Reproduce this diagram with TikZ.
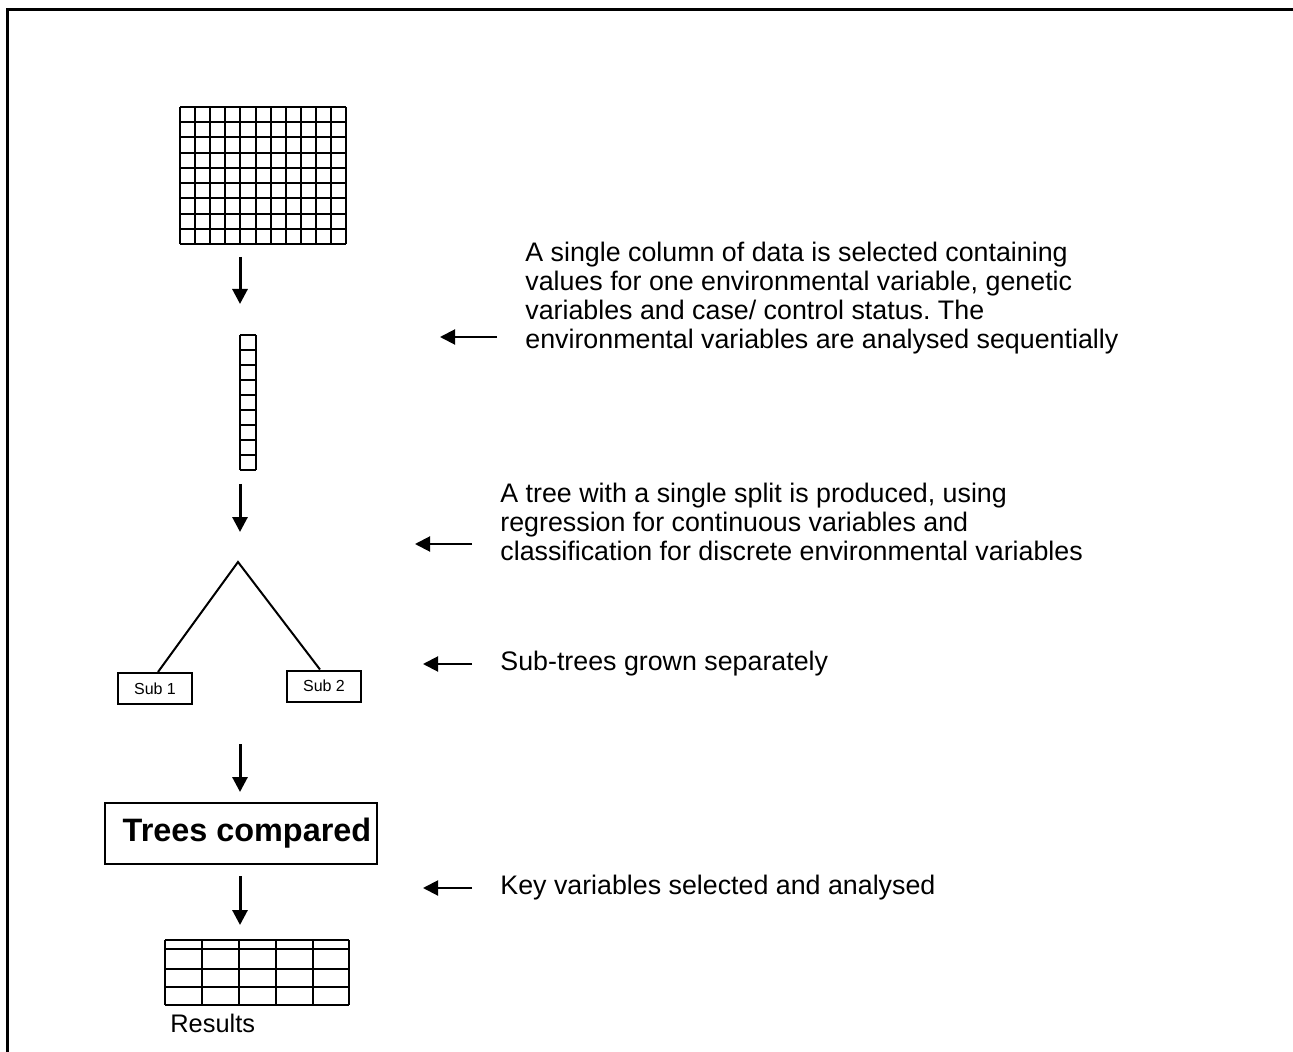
\documentclass[tikz,border=0pt]{standalone}
\usepackage{fontspec}
\setmainfont{Liberation Sans}
\usetikzlibrary{arrows.meta}
\frenchspacing

\tikzset{
  downarr/.style={line width=1.5pt,-{Triangle[length=7.5pt,width=7.5pt]}},
  leftarr/.style={line width=1pt,-{Triangle[length=7.5pt,width=7.5pt]}},
  note/.style={anchor=west,align=left,inner sep=0pt,font=\fontsize{13.4}{14.5}\selectfont},
  subbox/.style={draw,line width=1pt,minimum width=37pt,minimum height=15.5pt,inner sep=0pt,font=\fontsize{8}{9}\selectfont}
}

\begin{document}
\begin{tikzpicture}[x=0.5pt,y=-0.5pt]
				\useasboundingbox (0,0) rectangle (1293,1052);
				\draw[line width=1.5pt] (1293,10) -- (7,10) -- (7,1052);
				% full data grid
				\foreach \i in {0,...,11} \draw[line width=1pt] (180+15.1*\i,107) -- (180+15.1*\i,244);
				\foreach \j in {0,...,9} \draw[line width=1pt] (180,107+15.22*\j) -- (346,107+15.22*\j);
				% single column
				\foreach \j in {0,...,9} \draw[line width=1pt] (240,335+15*\j) -- (256,335+15*\j);
				\draw[line width=1pt] (240,335) -- (240,470) (256,335) -- (256,470);
				% down arrows
				\coordinate (d1) at (240,257); \coordinate (d1e) at (240,304);
				\coordinate (d2) at (240,484); \coordinate (d2e) at (240,532);
				\coordinate (d3) at (240,744); \coordinate (d3e) at (240,792);
				\coordinate (d4) at (240,876); \coordinate (d4e) at (240,925);
				\draw[downarr] (d1) -- (d1e);
				\draw[downarr] (d2) -- (d2e);
				\draw[downarr] (d3) -- (d3e);
				\draw[downarr] (d4) -- (d4e);
				% split
				\coordinate (apex) at (238,562);
				\draw(155,688.5) node[subbox] (sub1) {Sub 1};
				\draw(324,686) node[subbox] (sub2) {Sub 2};
				\draw[line width=1pt] ([xshift=1.5pt]sub1.north) -- (apex) -- ([xshift=-2pt]sub2.north);
				\draw(241,833.5) node[draw,line width=1pt,minimum width=136pt,minimum height=30.5pt,inner sep=0pt,font=\fontsize{16.2}{19}\bfseries] (cmp) {\hspace*{6pt}Trees compared};
				% results table
				\foreach \x in {165,202,239,276,313,349} \draw[line width=1pt] (\x,940) -- (\x,1005);
				\foreach \y in {940,949,969,987,1005} \draw[line width=1pt] (165,\y) -- (349,\y);
				\draw(170,1023) node[note,font=\fontsize{12.7}{14}\selectfont] (res) {Results};
				% notes
				\draw(525,298) node[note] (t1) {A single column of data is selected containing\\values for one environmental variable, genetic\\variables and case/ control status. The\\environmental variables are analysed sequentially};
				\draw(500,522) node[note] (t2) {A tree with a single split is produced, using\\regression for continuous variables and\\classification for discrete environmental variables};
				\draw(500,664) node[note] (t3) {Sub-trees grown separately};
				\draw(500,888) node[note] (t4) {Key variables selected and analysed};
				\coordinate (l1) at (440,337);
				\coordinate (l2) at (415,544);
				\coordinate (l3) at (423,664);
				\coordinate (l4) at (423,888);
				\draw[leftarr] ([xshift=-14pt]t1.west |- l1) -- (l1);
				\draw[leftarr] ([xshift=-14pt]t2.west |- l2) -- (l2);
				\draw[leftarr] ([xshift=-14pt]t3.west) -- (l3);
				\draw[leftarr] ([xshift=-14pt]t4.west) -- (l4);
			\end{tikzpicture}
\end{document}
